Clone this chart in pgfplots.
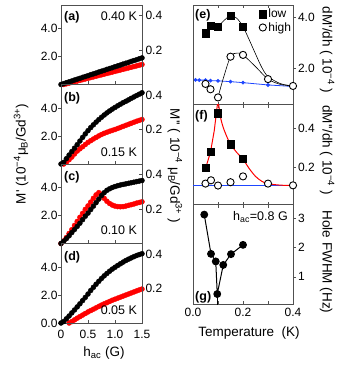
\documentclass[border=0pt]{standalone}
\usepackage{fontspec}
\setmainfont{Liberation Sans}
\usepackage{pgfplots}
\pgfplotsset{compat=1.18}

\definecolor{mred}{RGB}{255,0,0}
\definecolor{mblue}{RGB}{30,70,255}
\definecolor{frm}{RGB}{80,80,80}
\newcommand{\fs}[1]{\fontsize{#1}{#1}\selectfont}
\newcommand{\pr}{\textquotesingle}

\tikzset{
  lab/.style={font=\bfseries\fs{12.5}, anchor=base west, inner sep=0pt},
  tlab/.style={font=\fs{12.5}, anchor=base east, inner sep=0pt},
}
\pgfplotsset{
  base/.style={scale only axis, anchor=south west,
    axis line style={frm, line width=0.6pt},
    tick style={frm, line width=0.6pt},
    major tick length=3pt, tick align=inside,
    /pgf/number format/assume math mode=true,
    tick label style={font=\fs{12}}},
  lp/.style={base, width=81pt, height=79.5pt, xmin=0, xmax=1.5,
    xtick={0,0.5,1,1.5}, xticklabels={}},
  lpblack/.style={lp, ymin=0, ymax=5.68, xtick pos=bottom, ytick pos=left,
    ytick={2,4}, yticklabels={2.0,4.0}, y tick style={xshift=-3pt}},
  lpred/.style={lp, ymin=0, ymax=0.461, axis y line*=right, axis x line=none,
    ytick={0.2,0.4}, yticklabels={0.2,0.4}},
  blk/.style={black, only marks, mark=*, mark size=2.5pt},
  rd/.style={mred, only marks, mark=*, mark size=2.5pt},
  rp/.style={base, width=100pt, height=99.8pt, xmin=0, xmax=0.4,
    xtick={0.1,0.2,0.3}, xticklabels={}, xtick pos=both, ytick pos=right,
    y tick style={xshift=3pt}, yticklabel style={xshift=1.5pt}},
  sq/.style={black, only marks, mark=square*, mark size=3.6pt},
  oc/.style={black, only marks, mark=*, mark size=3.6pt, mark options={fill=white, line width=0.9pt}},
}

\begin{document}
\begin{tikzpicture}[x=1pt,y=1pt]
\useasboundingbox (0,0) rectangle (338,375);

% ---------- (a) 0.40 K ----------
\begin{axis}[lpred, at={(61pt,290.5pt)}]
\addplot[rd] coordinates {
(0.05,0.000) (0.10,0.004) (0.15,0.008) (0.20,0.012) (0.25,0.016) (0.30,0.020)
(0.35,0.024) (0.40,0.028) (0.45,0.032) (0.50,0.036) (0.55,0.040) (0.60,0.044)
(0.65,0.048) (0.70,0.052) (0.75,0.056) (0.80,0.060) (0.85,0.064) (0.90,0.068)
(0.95,0.072) (1.00,0.076) (1.05,0.080) (1.10,0.084) (1.15,0.088) (1.20,0.092)
(1.25,0.096) (1.30,0.100) (1.35,0.104) (1.40,0.108) (1.45,0.112) (1.50,0.116)};
\end{axis}
\begin{axis}[lpblack, at={(61pt,290.5pt)}]
\addplot[blk] coordinates {
(0,0) (0.05,0.06) (0.10,0.13) (0.15,0.19) (0.20,0.25) (0.25,0.32) (0.30,0.38)
(0.35,0.44) (0.40,0.51) (0.45,0.57) (0.50,0.63) (0.55,0.70) (0.60,0.76)
(0.65,0.82) (0.70,0.89) (0.75,0.95) (0.80,1.01) (0.85,1.08) (0.90,1.14)
(0.95,1.20) (1.00,1.27) (1.05,1.33) (1.10,1.39) (1.15,1.46) (1.20,1.52)
(1.25,1.58) (1.30,1.65) (1.35,1.71) (1.40,1.77) (1.45,1.84) (1.50,1.90)};
\node[lab] at (rel axis cs:0.037,0.80) {(a)};
\node[tlab] at (rel axis cs:0.94,0.80) {0.40 K};
\end{axis}

% ---------- (b) 0.15 K ----------
\begin{axis}[lpred, at={(61pt,211pt)}]
\addplot[rd] coordinates {
(0.05,0.000) (0.10,0.010) (0.15,0.025) (0.20,0.040) (0.25,0.058) (0.30,0.075)
(0.35,0.088) (0.40,0.100) (0.45,0.113) (0.50,0.125) (0.55,0.135) (0.60,0.145)
(0.65,0.154) (0.70,0.163) (0.75,0.171) (0.80,0.178) (0.85,0.184) (0.90,0.190)
(0.95,0.195) (1.00,0.200) (1.05,0.206) (1.10,0.212) (1.15,0.218) (1.20,0.224)
(1.25,0.230) (1.30,0.236) (1.35,0.242) (1.40,0.248) (1.45,0.253) (1.50,0.258)};
\end{axis}
\begin{axis}[lpblack, at={(61pt,211pt)}]
\addplot[blk] coordinates {
(0,0) (0.05,0.12) (0.10,0.38) (0.15,0.64) (0.20,0.89) (0.25,1.13) (0.30,1.38)
(0.35,1.64) (0.40,1.90) (0.45,2.15) (0.50,2.38) (0.55,2.60) (0.60,2.80)
(0.65,2.99) (0.70,3.17) (0.75,3.34) (0.80,3.50) (0.85,3.65) (0.90,3.79)
(0.95,3.92) (1.00,4.04) (1.05,4.16) (1.10,4.27) (1.15,4.38) (1.20,4.48)
(1.25,4.58) (1.30,4.69) (1.35,4.79) (1.40,4.89) (1.45,4.99) (1.50,5.09)};
\node[lab] at (rel axis cs:0.037,0.79) {(b)};
\node[tlab] at (rel axis cs:0.94,0.10) {0.15 K};
\end{axis}

% ---------- (c) 0.10 K ----------
\begin{axis}[lpred, at={(61pt,131.5pt)}]
\addplot[rd] coordinates {
(0,0) (0.05,0.015) (0.10,0.035) (0.15,0.058) (0.20,0.080) (0.25,0.105) (0.30,0.128)
(0.35,0.152) (0.40,0.175) (0.45,0.198) (0.50,0.218) (0.55,0.240) (0.60,0.262)
(0.65,0.282) (0.70,0.295) (0.75,0.285) (0.80,0.262) (0.85,0.245) (0.90,0.232)
(0.95,0.223) (1.00,0.217) (1.05,0.214) (1.10,0.213) (1.15,0.214) (1.20,0.217)
(1.25,0.221) (1.30,0.225) (1.35,0.229) (1.40,0.234) (1.45,0.238) (1.50,0.242)};
\end{axis}
\begin{axis}[lpblack, at={(61pt,131.5pt)}]
\addplot[blk] coordinates {
(0,0) (0.05,0.15) (0.10,0.35) (0.15,0.55) (0.20,0.78) (0.25,1.00) (0.30,1.22)
(0.35,1.45) (0.40,1.70) (0.45,1.95) (0.50,2.17) (0.55,2.42) (0.60,2.67)
(0.65,2.92) (0.70,3.17) (0.75,3.42) (0.80,3.63) (0.85,3.80) (0.90,3.91)
(0.95,4.00) (1.00,4.07) (1.05,4.13) (1.10,4.18) (1.15,4.22) (1.20,4.26)
(1.25,4.30) (1.30,4.34) (1.35,4.38) (1.40,4.42) (1.45,4.46) (1.50,4.50)};
\node[lab] at (rel axis cs:0.037,0.79) {(c)};
\node[tlab] at (rel axis cs:0.94,0.11) {0.10 K};
\end{axis}

% ---------- (d) 0.05 K ----------
\begin{axis}[lpred, at={(61pt,52pt)}]
\addplot[rd] coordinates {
(0.15,0.000) (0.20,0.008) (0.25,0.018) (0.30,0.028) (0.35,0.037) (0.40,0.046)
(0.45,0.055) (0.50,0.064) (0.55,0.072) (0.60,0.080) (0.65,0.088) (0.70,0.096)
(0.75,0.104) (0.80,0.111) (0.85,0.118) (0.90,0.125) (0.95,0.132) (1.00,0.138)
(1.05,0.144) (1.10,0.150) (1.15,0.156) (1.20,0.162) (1.25,0.168) (1.30,0.174)
(1.35,0.180) (1.40,0.186) (1.45,0.192) (1.50,0.197)};
\end{axis}
\begin{axis}[lpblack, at={(61pt,52pt)}, ytick={0,2,4}, yticklabels={0.0,2.0,4.0},
  xticklabels={0,0.5,1.0,1.5}, xticklabel style={yshift=-4pt}]
\addplot[blk] coordinates {
(0,0) (0.05,0.10) (0.10,0.30) (0.15,0.50) (0.20,0.72) (0.25,0.93) (0.30,1.15)
(0.35,1.37) (0.40,1.60) (0.45,1.83) (0.50,2.07) (0.55,2.32) (0.60,2.55)
(0.65,2.77) (0.70,2.98) (0.75,3.18) (0.80,3.37) (0.85,3.54) (0.90,3.70)
(0.95,3.85) (1.00,3.98) (1.05,4.11) (1.10,4.23) (1.15,4.35) (1.20,4.46)
(1.25,4.56) (1.30,4.65) (1.35,4.74) (1.40,4.82) (1.45,4.89) (1.50,4.95)};
\node[lab] at (rel axis cs:0.037,0.79) {(d)};
\node[tlab] at (rel axis cs:0.94,0.11) {0.05 K};
\end{axis}

% ---------- (e) dM'/dh ----------
\begin{axis}[rp, at={(193pt,270.2pt)}, ymin=0.55, ymax=4.47,
  ytick={2,4}, yticklabels={2.0,4.0},
  legend style={at={(rel axis cs:0.63,1.0)}, anchor=north west, draw=none, fill=none,
    font=\fs{12}, row sep=-1pt}, legend cell align=left]
\addplot[mblue, line width=0.8pt, mark=*, mark size=1.5pt, forget plot] coordinates {
(0.01,1.53) (0.025,1.52) (0.05,1.52) (0.07,1.50) (0.10,1.49) (0.15,1.46)
(0.20,1.42) (0.30,1.33) (0.40,1.27)};
\addplot[black, line width=0.6pt, smooth, forget plot] coordinates {
(0.10,3.62) (0.125,3.87) (0.15,4.05) (0.175,3.95) (0.20,3.62) (0.225,3.10)
(0.25,2.55) (0.275,2.02) (0.30,1.66) (0.35,1.38) (0.40,1.29)};
\addplot[black, line width=0.6pt, smooth, forget plot] coordinates {
(0.10,0.84) (0.12,1.55) (0.15,2.44) (0.175,2.58) (0.20,2.51) (0.25,2.05)
(0.30,1.56) (0.35,1.35) (0.40,1.29)};
\addplot[sq] coordinates {(0.05,3.36) (0.07,3.65) (0.10,3.62) (0.15,4.05) (0.20,3.62)};
\addlegendentry{low}
\addplot[oc] coordinates {(0.05,1.37) (0.07,1.16) (0.10,0.84) (0.15,2.44) (0.20,2.51) (0.30,1.56) (0.40,1.29)};
\addlegendentry{high}
\node[lab] at (rel axis cs:0.02,0.865) {(e)};
\end{axis}

% ---------- (f) dM''/dh ----------
\begin{axis}[rp, at={(193pt,170.4pt)}, ymin=0.01, ymax=0.523,
  ytick={0.2,0.4}, yticklabels={0.2,0.4}]
\addplot[mblue, line width=0.8pt] coordinates {(0,0.108) (0.4,0.108)};
\addplot[mred, line width=1pt] coordinates {(0.05,0.195) (0.07,0.28) (0.085,0.39) (0.10,0.55)};
\addplot[mred, line width=1pt, smooth] coordinates {
(0.10,0.55) (0.11,0.46) (0.12,0.41) (0.135,0.36) (0.15,0.32) (0.175,0.278)
(0.20,0.243) (0.225,0.195) (0.25,0.155) (0.275,0.13) (0.30,0.117) (0.35,0.11) (0.40,0.108)};
\addplot[sq] coordinates {(0.05,0.20) (0.07,0.28) (0.10,0.48) (0.15,0.32) (0.20,0.246)};
\addplot[oc] coordinates {(0.05,0.118) (0.072,0.135) (0.10,0.108) (0.15,0.125) (0.20,0.155) (0.30,0.118) (0.40,0.109)};
\node[lab] at (rel axis cs:0.02,0.853) {(f)};
\end{axis}

% ---------- (g) hole FWHM ----------
\begin{axis}[rp, at={(193pt,70.5pt)}, ymin=0.05, ymax=3.48,
  xtick={0,0.1,0.2,0.3,0.4}, xticklabels={0.0,,0.2,,0.4},
  ytick={1,2,3}, yticklabels={1,2,3}]
\addplot[black, line width=1pt] coordinates {(0.097,0.41) (0.097,-0.3)};
\addplot[black, line width=1pt, mark=*, mark size=3.4pt] coordinates {
(0.045,3.14) (0.072,1.79) (0.091,1.53) (0.097,0.41) (0.121,1.41) (0.152,1.78) (0.20,2.10)};
\node[lab] at (rel axis cs:0.02,0.04) {(g)};
\node[tlab] at (rel axis cs:0.95,0.84) {h\textsubscript{ac}=0.8 G};
\end{axis}

% ---------- axis titles ----------
\node[rotate=90, font=\fs{13.5}] at (21,221) {M\pr\ (10\textsuperscript{−4}μ\textsubscript{B}/Gd\textsuperscript{3+})};
\node[rotate=-90, font=\fs{13.5}] at (175,209) {M\pr\pr\ ( 10\textsuperscript{−4} μ\textsubscript{B}/Gd\textsuperscript{3+} )};
\node[rotate=-90, font=\fs{13.5}] at (327,325) {dM\pr/dh ( 10\textsuperscript{−4} )};
\node[rotate=-90, font=\fs{13.5}] at (327,225) {dM\pr\pr/dh ( 10\textsuperscript{−4} )};
\node[rotate=-90, font=\fs{13.5}] at (326,113) {Hole FWHM (Hz)};
\node[font=\fs{13.5}] at (104,22) {h\textsubscript{ac} (G)};
\node[font=\fs{13.5}] at (249,42) {Temperature\ \ (K)};
\end{tikzpicture}
\end{document}
